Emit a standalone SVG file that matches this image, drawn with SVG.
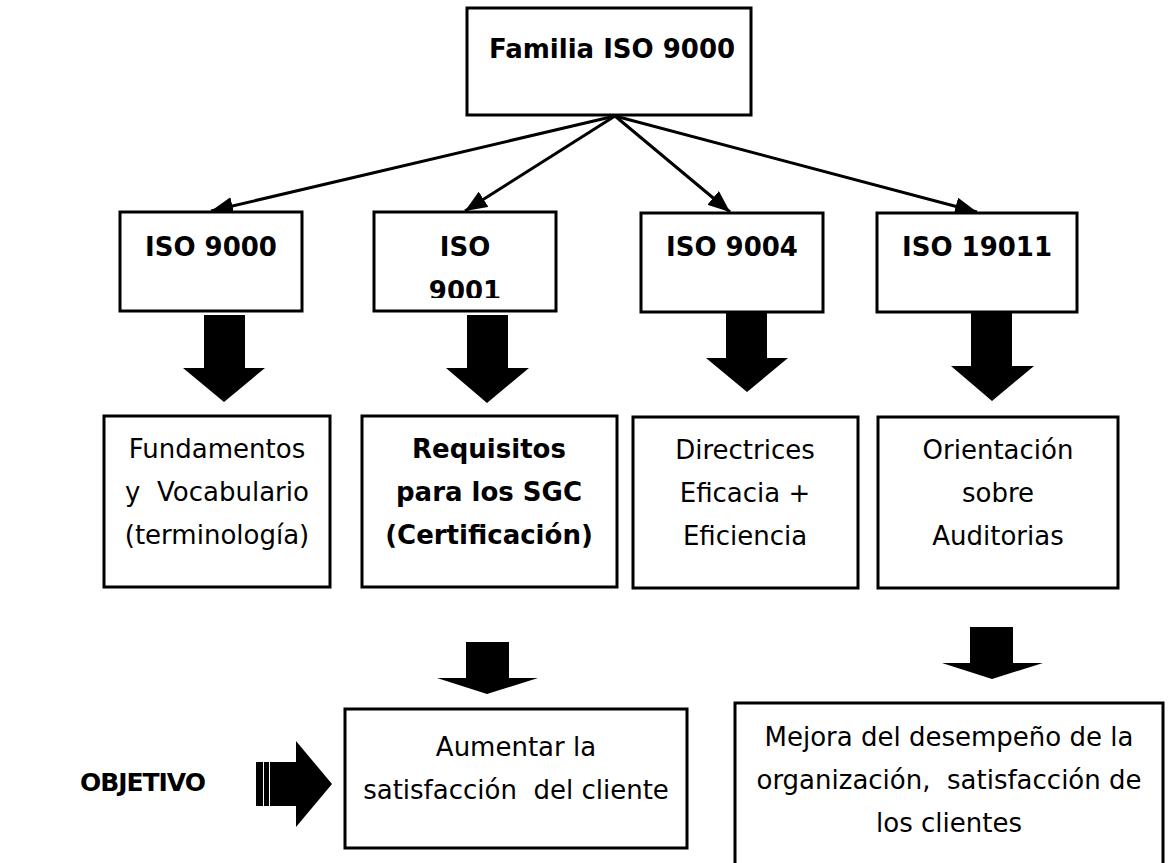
<svg xmlns="http://www.w3.org/2000/svg" width="1168" height="863" viewBox="0 0 1168 863">
<style>
.box{fill:#fff;stroke:#000;stroke-width:3}
.t{font-family:"DejaVu Sans",Verdana,sans-serif;font-size:26px;fill:#000;text-anchor:middle}
.b{font-weight:bold}
.conn{stroke:#000;stroke-width:3;fill:none}
.blk{fill:#000}
</style>
<defs>
<marker id="ah" markerUnits="userSpaceOnUse" markerWidth="22" markerHeight="18" refX="22" refY="9" orient="auto">
<path d="M0,0 L22,9 L0,18 z" fill="#000"/>
</marker>
<clipPath id="clip9001"><rect x="374" y="212" width="182" height="86"/></clipPath>
</defs>
<rect width="1168" height="863" fill="#fff"/>

<g id="connectors">
<line class="conn" x1="615" y1="116" x2="211" y2="211" marker-end="url(#ah)"/>
<line class="conn" x1="615" y1="116" x2="465" y2="211" marker-end="url(#ah)"/>
<line class="conn" x1="615" y1="116" x2="730" y2="212" marker-end="url(#ah)"/>
<line class="conn" x1="615" y1="116" x2="977" y2="212" marker-end="url(#ah)"/>
<path class="blk" d="M204,315 H245 V368 H265 L224,402 L183,368 H204 Z"/>
<path class="blk" d="M467,315 H508 V368 H529 L487,403 L446,368 H467 Z"/>
<path class="blk" d="M726,307 H767 V358 H788 L747,392 L706,358 H726 Z"/>
<path class="blk" d="M971,311 H1012 V366 H1034 L992,401 L951,366 H971 Z"/>
<path class="blk" d="M466,642 H509 V678 H538 L487,694 L437,678 H466 Z"/>
<path class="blk" d="M970,627 H1013 V663 H1043 L992,679 L942,663 H970 Z"/>
<g id="objetivo-arrow">
<path class="blk" d="M256,762 H296 V741 L332,784 L296,827 V806 H256 Z"/>
<line x1="263.5" y1="762" x2="263.5" y2="806" stroke="#fff" stroke-width="1"/>
<line x1="269.5" y1="762" x2="269.5" y2="806" stroke="#fff" stroke-width="1"/>
</g>
</g>

<g id="familia">
<rect class="box" x="467" y="8" width="284" height="107"/>
<text class="t b" x="612" y="58">Familia ISO 9000</text>
</g>
<g id="iso9000">
<rect class="box" x="120" y="212" width="182" height="99"/>
<text class="t b" x="211" y="256">ISO 9000</text>
</g>
<g id="iso9001">
<rect class="box" x="374" y="212" width="182" height="99"/>
<text class="t b" x="465" y="256">ISO</text>
<text class="t b" x="465" y="300" clip-path="url(#clip9001)">9001</text>
</g>
<g id="iso9004">
<rect class="box" x="641" y="213" width="182" height="99"/>
<text class="t b" x="732" y="256">ISO 9004</text>
</g>
<g id="iso19011">
<rect class="box" x="877" y="213" width="200" height="99"/>
<text class="t b" x="977" y="256">ISO 19011</text>
</g>

<g id="fundamentos">
<rect class="box" x="104" y="416" width="226" height="171"/>
<text class="t" x="217" y="458">Fundamentos</text>
<text class="t" x="217" y="501" xml:space="preserve">y  Vocabulario</text>
<text class="t" x="217" y="544">(terminología)</text>
</g>
<g id="requisitos">
<rect class="box" x="362" y="416" width="255" height="171"/>
<text class="t b" x="489" y="458">Requisitos</text>
<text class="t b" x="489" y="501">para los SGC</text>
<text class="t b" x="489" y="544">(Certificación)</text>
</g>
<g id="directrices">
<rect class="box" x="633" y="417" width="225" height="171"/>
<text class="t" x="745" y="459">Directrices</text>
<text class="t" x="745" y="502">Eficacia +</text>
<text class="t" x="745" y="545">Eficiencia</text>
</g>
<g id="orientacion">
<rect class="box" x="878" y="417" width="240" height="171"/>
<text class="t" x="998" y="459">Orientación</text>
<text class="t" x="998" y="502">sobre</text>
<text class="t" x="998" y="545">Auditorias</text>
</g>

<g id="objetivo">
<text class="t b" x="80" y="791" style="text-anchor:start;font-size:25px" textLength="126">OBJETIVO</text>
</g>
<g id="aumentar">
<rect class="box" x="345" y="709" width="342" height="139"/>
<text class="t" x="516" y="756">Aumentar la</text>
<text class="t" x="516" y="799" xml:space="preserve">satisfacción  del cliente</text>
</g>
<g id="mejora">
<rect class="box" x="735" y="703" width="428" height="170"/>
<text class="t" x="949" y="746">Mejora del desempeño de la</text>
<text class="t" x="949" y="789" xml:space="preserve">organización,  satisfacción de</text>
<text class="t" x="949" y="832">los clientes</text>
</g>
</svg>
